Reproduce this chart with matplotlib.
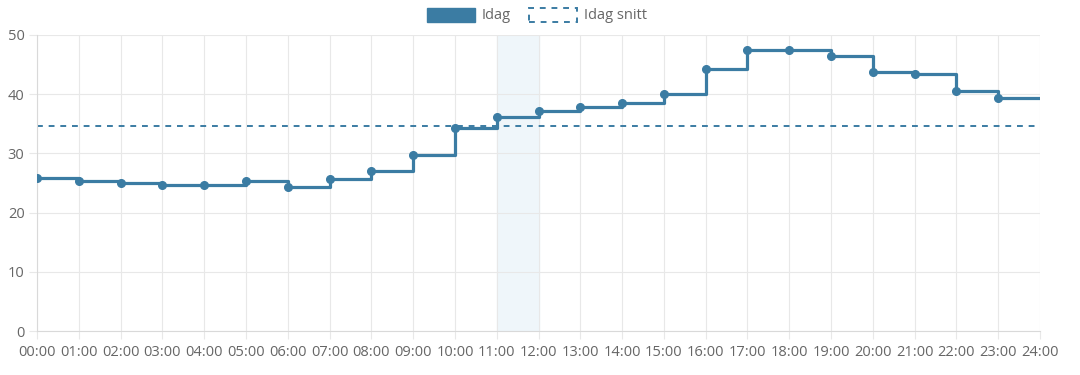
import matplotlib.pyplot as plt
from matplotlib.patches import Patch

# hourly values (Idag) and the day average (Idag snitt)
hours = list(range(24))
values = [25.9, 25.4, 25.0, 24.7, 24.7, 25.3, 24.3, 25.7, 27.0, 29.8,
          34.3, 36.1, 37.1, 37.9, 38.5, 40.1, 44.2, 47.4, 47.4, 46.4,
          43.8, 43.4, 40.6, 39.3]
avg = 34.7
tick_labels = [f"{h:02d}:00" for h in range(25)]
highlight = (11, 12)

color = '#3b7ca3'
grid_c = '#e8e8e8'
text_c = '#666666'

plt.rcParams['font.family'] = ['Open Sans', 'DejaVu Sans']

fig = plt.figure(figsize=(10.8, 3.75), dpi=100)
ax = fig.add_axes([0.0343, 0.1173, 0.9287, 0.7894])

# current hour band
ax.axvspan(highlight[0], highlight[1], color='#eff6fa', zorder=0)

# step line, extended to 24:00
ax.plot(hours + [24], values + [values[-1]], drawstyle='steps-post',
        color=color, lw=2.3, zorder=3)
ax.plot(hours, values, 'o', color=color, ms=5.5, zorder=4)
ax.axhline(avg, color=color, lw=1.4, ls=(0, (3, 3)), zorder=2)

ax.set_xlim(0, 24)
ax.set_ylim(0, 50)
ax.set_xticks(range(25))
ax.set_xticklabels(tick_labels)
ax.set_yticks(range(0, 51, 10))
ax.grid(True, color=grid_c, lw=0.8)
ax.set_axisbelow(True)
for s in ['top', 'right']:
    ax.spines[s].set_visible(False)
for s in ['left', 'bottom']:
    ax.spines[s].set_color('#d9d9d9')
ax.tick_params(colors=grid_c, labelcolor=text_c, labelsize=10.5, length=6, width=0.8)
ax.tick_params(axis='x', pad=4)
ax.tick_params(axis='y', pad=3)

handles = [Patch(facecolor=color, edgecolor=color, label='Idag'),
           Patch(facecolor='none', edgecolor=color, ls=(0, (3, 3)), lw=1.4, label='Idag snitt')]
fig.legend(handles=handles, loc='upper center', bbox_to_anchor=(0.497, 1.015), ncol=2,
           frameon=False, fontsize=10.5, labelcolor=text_c, handlelength=3.3,
           handleheight=1.1, columnspacing=1.2, handletextpad=0.5)

fig.savefig('out.png', dpi=100)
